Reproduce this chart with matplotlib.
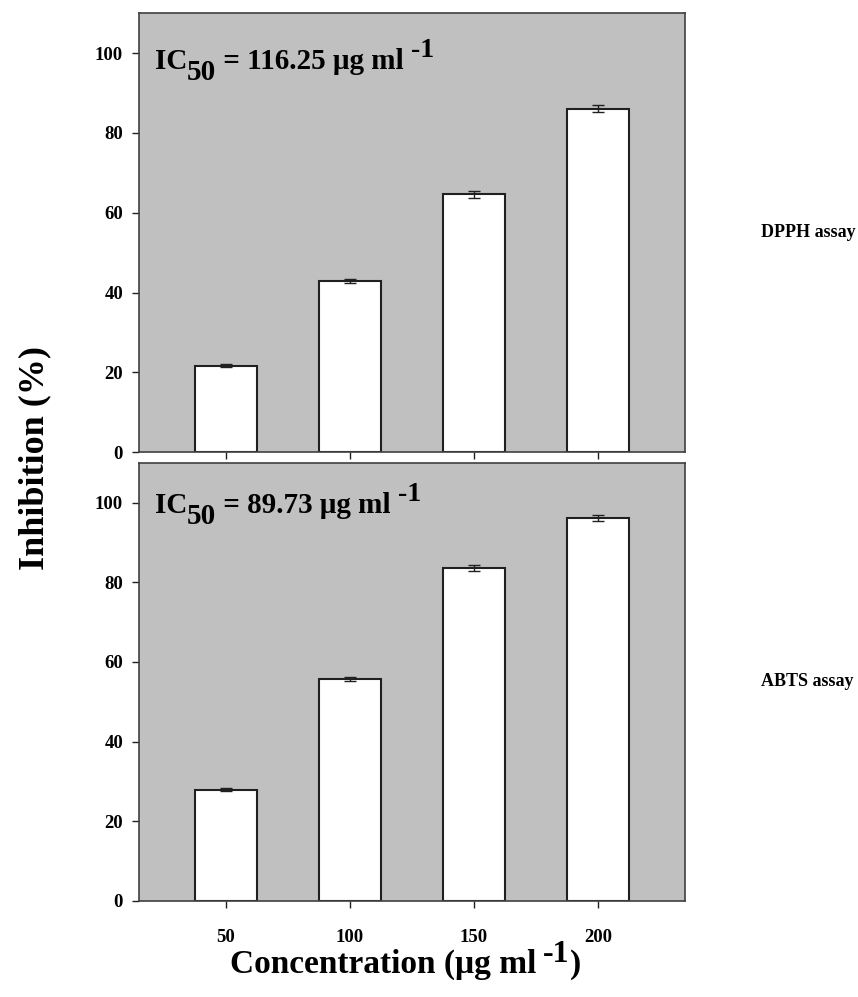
import matplotlib
matplotlib.use('Agg')
from matplotlib import pyplot as plt

plt.rcParams['font.family'] = 'Liberation Serif'
plt.rcParams['font.weight'] = 'bold'

# dados
conc = [50, 100, 150, 200]
dpph = [21.6, 43.0, 64.6, 86.1]
dpph_err = [0.4, 0.5, 0.8, 0.9]
abts = [27.9, 55.8, 83.6, 96.2]
abts_err = [0.4, 0.5, 0.8, 0.8]
ic50 = ['116.25', '89.73']
ensaios = ['DPPH assay', 'ABTS assay']


def texto_composto(ax, xy, coords, partes):
    # cada parte: (texto, dx, dy, tamanho) com deslocamento relativo à parte anterior
    prev = None
    for txt, dx, dy, tam in partes:
        if prev is None:
            prev = ax.annotate(txt, xy=xy, xycoords=coords, xytext=(dx, dy), textcoords='offset points',
                               fontsize=tam, fontweight='bold', va='bottom', ha='left', annotation_clip=False)
        else:
            prev = ax.annotate(txt, xy=(1, 0), xycoords=prev, xytext=(dx, dy), textcoords='offset points',
                               fontsize=tam, fontweight='bold', va='bottom', ha='left', annotation_clip=False)


fig = plt.figure(figsize=(8.58, 9.97), dpi=100)
ax1 = fig.add_axes([0.162, 0.5466, 0.636, 0.440])
ax2 = fig.add_axes([0.162, 0.0963, 0.636, 0.4396])

pos_ic = [(0.029, 0.859), (0.029, 0.871)]
for ax, vals, errs, ic, nome, p in zip([ax1, ax2], [dpph, abts], [dpph_err, abts_err], ic50, ensaios, pos_ic):
    ax.set_facecolor('#c0c0c0')
    ax.bar(conc, vals, width=25, color='white', edgecolor='#202020', linewidth=1.5, zorder=2)
    ax.errorbar(conc, vals, yerr=errs, fmt='none', ecolor='#202020', elinewidth=1, capsize=4, capthick=1, zorder=3)
    ax.set_xlim(15, 235)
    ax.set_ylim(0, 110)
    ax.set_yticks([0, 20, 40, 60, 80, 100])
    ax.set_xticks(conc)
    ax.tick_params(direction='out', length=5, width=1, color='#202020', labelsize=13.5)
    ax.tick_params(axis='y', pad=6.5)
    for s in ax.spines.values():
        s.set_color('#404040')
        s.set_linewidth(1.2)
    texto_composto(ax, p, 'axes fraction',
                   [('IC', 0, 0, 21), ('50', 0, -8, 21), (' = ' + ic + ' μg ml', 0, 8, 21), ('-1', 5, 9, 20)])
    ax.text(1.139, 0.5, nome, transform=ax.transAxes, fontsize=13, fontweight='bold', va='center', ha='left')

ax1.set_xticklabels([])
ax2.set_xticklabels([str(c) for c in conc])
ax2.tick_params(axis='x', pad=15)

fig.text(0.041, 0.541, 'Inhibition (%)', rotation=90, fontsize=26, fontweight='bold', ha='center', va='center')
texto_composto(ax2, (0.268, 0.017), 'figure fraction',
               [('Concentration (μg ml', 0, 0, 24), ('-1', 5, 8, 23), (')', 0, -8, 24)])

fig.savefig('out.png', dpi=100)
